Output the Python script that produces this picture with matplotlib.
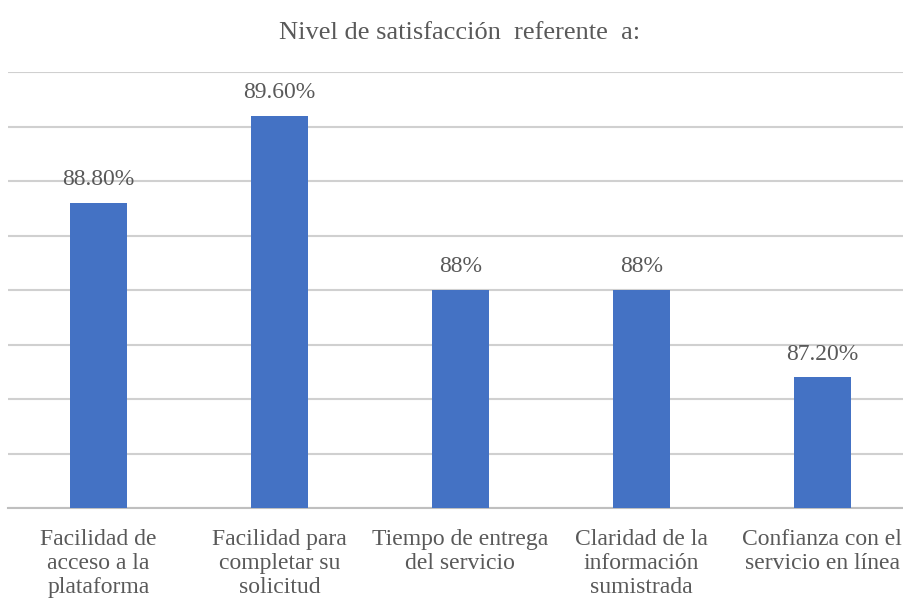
import matplotlib.pyplot as plt
import numpy as np

plt.rcParams['font.family'] = ['Liberation Serif', 'DejaVu Serif']

# datos
categorias = ['Facilidad de\nacceso a la\nplataforma',
              'Facilidad para\ncompletar su\nsolicitud',
              'Tiempo de entrega\ndel servicio',
              'Claridad de la\ninformación\nsumistrada',
              'Confianza con el\nservicio en línea']
valores = [88.8, 89.6, 88.0, 88.0, 87.2]
etiquetas = ['88.80%', '89.60%', '88%', '88%', '87.20%']

gris = '#595959'
fig = plt.figure(figsize=(9.04, 5.99), dpi=100)
ax = fig.add_axes([8 / 904, 91 / 599, 896 / 904, 436 / 599])

x = np.arange(len(categorias))
ax.bar(x, valores, width=0.315, color='#4472C4', zorder=3)

ax.set_ylim(86, 90)
ax.set_xlim(-0.5, 4.453)
ax.set_yticks(np.arange(86, 90.01, 0.5))
ax.grid(axis='y', color='#d0d0d0', linewidth=1.5, zorder=0)
ax.tick_params(axis='y', left=False, labelleft=False)
ax.tick_params(axis='x', length=0, pad=15)
ax.set_xticks(x)
ax.set_xticklabels(categorias, fontsize=17, color=gris, linespacing=1.2, va='top')
for s in ['top', 'right', 'left']:
    ax.spines[s].set_visible(False)
ax.spines['bottom'].set_color('#bfbfbf')
ax.spines['bottom'].set_linewidth(1.5)

for xi, v, t in zip(x, valores, etiquetas):
    ax.annotate(t, (xi, v), xytext=(0, 9), textcoords='offset points',
                ha='center', va='bottom', fontsize=17, color=gris)

fig.text(0.508, 0.945, 'Nivel de satisfacción  referente  a:', ha='center', va='center',
         fontsize=19, color=gris)

plt.savefig('out.png', dpi=100)
